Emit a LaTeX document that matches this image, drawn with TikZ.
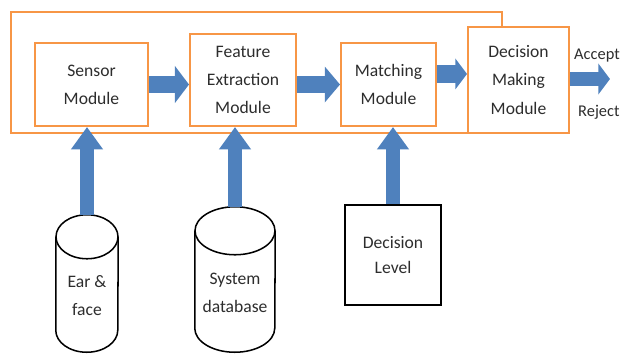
\documentclass[tikz,border=0pt]{standalone}
\usepackage{fontspec}
\setmainfont{Carlito}
\usepackage{tikz}
\usetikzlibrary{arrows.meta,positioning,calc}
\definecolor{myorange}{RGB}{247,150,70}
\definecolor{myblue}{RGB}{79,129,189}
\definecolor{mytext}{RGB}{45,45,45}
% two-line label that sits below the middle of a can
\newcommand{\canlabel}[2]{\raisebox{#1}[0pt][0pt]{\begin{tabular}{@{}c@{}}#2\end{tabular}}}

\begin{document}
\begin{tikzpicture}[x=0.03cm, y=-0.03cm,
    module/.style={draw=myorange, line width=1.7pt, fill=white, align=center,
        font=\fontsize{15}{24}\selectfont, text=mytext, inner sep=2pt},
    store/.style={inner sep=0pt, font=\fontsize{15}{24}\selectfont, text=mytext},
    canline/.style={draw=black, line width=1.3pt},
    level/.style={draw=black, line width=1.5pt, align=center,
        font=\fontsize{15}{22}\selectfont, text=mytext},
    outcome/.style={anchor=west, font=\fontsize{14}{17}\selectfont, text=mytext, inner sep=0pt},
    frame/.style={draw=myorange, line width=1.7pt},
    flow/.style={-{Triangle[length=12pt, width=31pt]}, line width=15pt, myblue},
    feed/.style={-{Triangle[length=19pt, width=26pt]}, line width=12pt, myblue}
]
\useasboundingbox (0,0) rectangle (621,354);

% outer loop around the modules
\draw[frame] (502,0 |- 0,27) |- (11,12) |- (468,133);

\node[module, minimum width=3.39cm, minimum height=2.49cm] (sensor) at (91.5,84.5)
    {Sensor\\Module};
\node[module, minimum width=3.18cm, minimum height=2.76cm] (feature) at (243,80)
    {Feature\\Extraction\\Module};
\node[module, minimum width=2.85cm, minimum height=2.49cm] (matching) at (388.5,84.5)
    {Matching\\Module};
\node[module, minimum width=3.03cm, minimum height=3.18cm] (decision) at (518.5,80)
    {Decision\\Making\\Module};

% inputs below
\node[store, minimum width=1.86cm, minimum height=4.11cm] (ear) at (87,283.5)
    {\canlabel{-14.4pt}{Ear \&\\face}};
\node[store, minimum width=2.4cm, minimum height=4.35cm] (db) at (235,279.5)
    {\canlabel{-14.8pt}{System\\database}};
\node[level, minimum width=2.88cm, minimum height=3.0cm] (dlevel) at (393,255)
    {Decision\\Level};

% the two cans
\draw[canline] ($(ear.north)+(0,22)$) ellipse [x radius=0.93cm, y radius=0.66cm];
\draw[canline] ($(ear.north west)+(0,22)$) -- ($(ear.south west)+(0,-22)$)
    arc[start angle=180, end angle=360, x radius=0.93cm, y radius=0.66cm]
    -- ($(ear.north east)+(0,22)$);
\draw[canline] ($(db.north)+(0,24)$) ellipse [x radius=1.2cm, y radius=0.72cm];
\draw[canline] ($(db.north west)+(0,24)$) -- ($(db.south west)+(0,-24)$)
    arc[start angle=180, end angle=360, x radius=1.2cm, y radius=0.72cm]
    -- ($(db.north east)+(0,24)$);

\node[outcome] (accept) at (574,56) {Accept};
\node[outcome] (reject) at (578,112) {Reject};
\coordinate (out) at (610,79);

% block arrows
\draw[flow] (sensor.east) -- (feature.west |- sensor.east);
\draw[flow, -{Triangle[length=13pt, width=30pt]}, line width=14pt] (feature.east |- sensor.east) -- (matching.west);
\draw[flow, -{Triangle[length=10pt, width=26pt]}] ([yshift=9pt]matching.east) -- ([yshift=9pt]matching.east -| decision.west);
\draw[flow, -{Triangle[length=10pt, width=26pt]}, line width=12pt] (decision.east |- out) -- (out);
\draw[feed] (ear.north) -- (ear.north |- sensor.south);
\draw[feed] (db.north) -- (db.north |- feature.south);
\draw[feed] (dlevel.north) -- (dlevel.north |- matching.south);
\end{tikzpicture}
\end{document}
